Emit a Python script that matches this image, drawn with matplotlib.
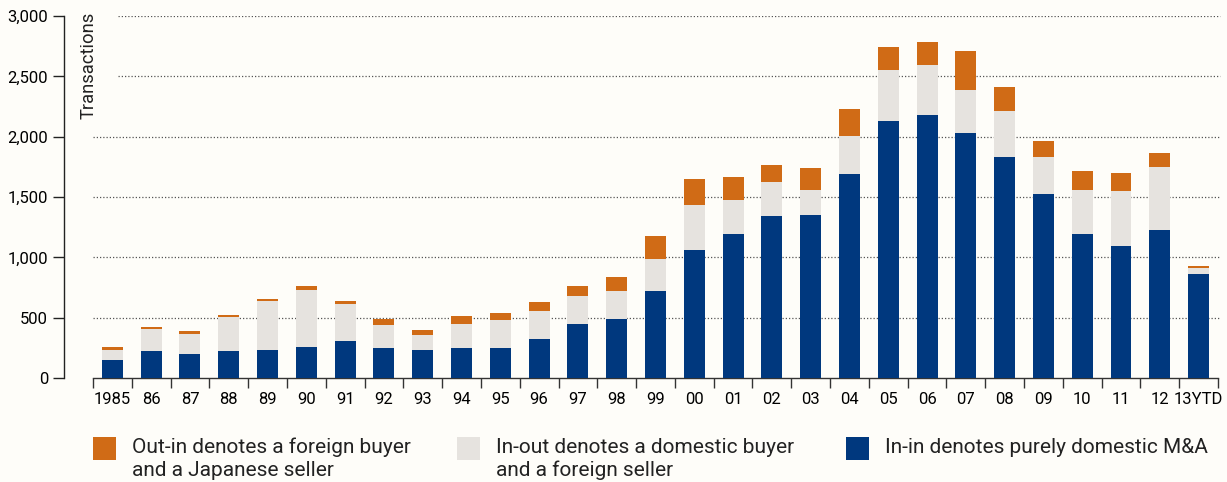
import matplotlib
matplotlib.use("Agg")
import matplotlib.pyplot as plt
from matplotlib.patches import Rectangle

plt.rcParams["font.family"] = ["Roboto", "DejaVu Sans"]
plt.rcParams["text.color"] = "#222222"

# 거래 건수 (연도별, 유형별)
years = ["1985", "86", "87", "88", "89", "90", "91", "92", "93", "94",
         "95", "96", "97", "98", "99", "00", "01", "02", "03", "04",
         "05", "06", "07", "08", "09", "10", "11", "12", "13YTD"]
in_in = [153, 220, 203, 220, 236, 253, 303, 245, 228, 245,
         245, 320, 445, 486, 720, 1062, 1195, 1345, 1354, 1687,
         2129, 2180, 2029, 1829, 1521, 1195, 1095, 1229, 862]
in_out = [83, 183, 158, 283, 401, 475, 309, 191, 125, 200,
          233, 233, 233, 234, 267, 375, 284, 276, 208, 317,
          426, 417, 359, 384, 308, 367, 451, 517, 50]
out_in = [25, 17, 25, 17, 16, 34, 25, 50, 42, 66,
          59, 75, 84, 117, 192, 209, 183, 142, 176, 226,
          192, 191, 325, 200, 134, 150, 150, 117, 16]
y_ticks = [0, 500, 1000, 1500, 2000, 2500, 3000]

BG = "#FEFDF9"
C_BLUE = "#00387E"
C_GRAY = "#E6E3DF"
C_ORANGE = "#D06B16"
AX_COLOR = "#333333"

fig = plt.figure(figsize=(12.27, 4.82), dpi=100, facecolor=BG)
ax = fig.add_axes([64 / 1227, 1 - 378 / 482, 1158 / 1227, 362 / 482])
ax.set_facecolor(BG)

x = list(range(len(years)))
bottom_gray = in_in
bottom_orange = [a + b for a, b in zip(in_in, in_out)]

ax.bar(x, in_in, width=0.54, color=C_BLUE, zorder=3)
ax.bar(x, in_out, width=0.54, bottom=bottom_gray, color=C_GRAY, zorder=3)
ax.bar(x, out_in, width=0.54, bottom=bottom_orange, color=C_ORANGE, zorder=3)

ax.set_xlim(-1.247, len(years) - 0.397)
ax.set_ylim(0, 3000)

# 점선 그리드 (상단 두 줄은 축 제목 자리를 비워둠)
for yv in y_ticks[1:]:
    x0 = 0.144 if yv >= 2500 else -0.5
    ax.hlines(yv, x0, len(years) - 0.45, colors="#555555",
              linestyles=(0, (1, 1.6)), linewidth=0.9, zorder=1)

for side in ["top", "right"]:
    ax.spines[side].set_visible(False)
ax.spines["left"].set_color("#222222")
ax.spines["left"].set_linewidth(1.0)
ax.spines["left"].set_bounds(0, 3000)
ax.spines["bottom"].set_color(AX_COLOR)
ax.spines["bottom"].set_linewidth(1.0)
ax.spines["bottom"].set_bounds(-0.5, len(years) - 0.5)

ax.set_yticks(y_ticks)
ax.set_yticklabels([f"{v:,}" for v in y_ticks])
ax.tick_params(axis="y", direction="out", length=8, width=1.0,
               color="#222222", pad=3.5, labelsize=12)

# 눈금은 구간 경계에, 라벨은 막대 중앙에
ax.set_xticks([i - 0.5 for i in range(len(years) + 1)])
ax.set_xticklabels([])
ax.set_xticks(x, minor=True)
ax.set_xticklabels(years, minor=True)
ax.tick_params(axis="x", which="major", direction="out", length=7.5,
               width=1.0, color=AX_COLOR)
ax.tick_params(axis="x", which="minor", length=0, pad=10, labelsize=12)

ax.text(0.0216, 1.012, "Transactions", rotation=90, ha="center", va="top",
        fontsize=13.2, transform=ax.transAxes, clip_on=False)

# 범례
legend_items = [
    (C_ORANGE, 93, ["Out-in denotes a foreign buyer", "and a Japanese seller"]),
    (C_GRAY, 457, ["In-out denotes a domestic buyer", "and a foreign seller"]),
    (C_BLUE, 846, ["In-in denotes purely domestic M&A"]),
]
for color, px, lines in legend_items:
    fig.add_artist(Rectangle((px / 1227, 1 - 460 / 482), 23 / 1227, 23 / 482,
                             transform=fig.transFigure, facecolor=color,
                             edgecolor="none"))
    for k, line in enumerate(lines):
        fig.text((px + 39) / 1227, 1 - (453 + 23 * k) / 482, line,
                 ha="left", va="baseline", fontsize=15)

fig.savefig("out.png", dpi=100, facecolor=BG)
